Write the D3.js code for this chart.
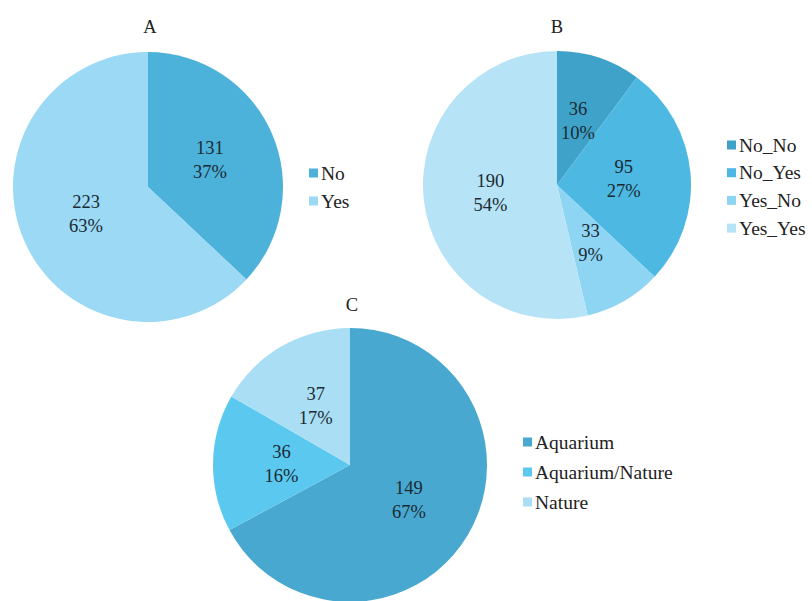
<!DOCTYPE html>
<html><head><meta charset="utf-8">
<script src="https://cdn.jsdelivr.net/npm/d3@7"></script>
<style>body{margin:0;background:#fff}svg{display:block}
svg text{font-family:"Liberation Serif","Times New Roman",Times,"DejaVu Serif",serif;}</style>
</head><body>
<svg id="c" width="812" height="601"></svg>
<script>
const titles = ["A", "B", "C"];
const catsA = ["No", "Yes"];
const valsA = [131, 223];
const pctA = ["37%", "63%"];
const colorsA = ["#4db2da", "#9bd9f4"];
const catsB = ["No_No", "No_Yes", "Yes_No", "Yes_Yes"];
const valsB = [36, 95, 33, 190];
const pctB = ["10%", "27%", "9%", "54%"];
const colorsB = ["#3fa3c9", "#4db9e3", "#8ed5f4", "#b7e3f7"];
const catsC = ["Aquarium", "Aquarium/Nature", "Nature"];
const valsC = [149, 36, 37];
const pctC = ["67%", "16%", "17%"];
const colorsC = ["#48a8cf", "#5bc8ef", "#aadef5"];

const svg = d3.select("#c");

function drawPie(cfg) {
  const g = svg.append("g").attr("transform", `translate(${cfg.cx},${cfg.cy})`);
  const pie = d3.pie().sort(null).value(d => d.v);
  const arc = d3.arc().innerRadius(0).outerRadius(cfg.r);
  const data = cfg.cats.map((c, i) => ({c, v: cfg.vals[i], p: cfg.pct[i], col: cfg.colors[i]}));
  const arcs = pie(data);
  g.selectAll("path").data(arcs).join("path")
    .attr("d", arc).attr("fill", d => d.data.col);
  const lab = g.selectAll("text.l").data(arcs).join("text")
    .attr("class", "l")
    .attr("transform", d => `translate(${arc.centroid(d)})`)
    .attr("text-anchor", "middle")
    .style("font-size", "18.5px").attr("fill", "#1a2a33");
  lab.append("tspan").attr("x", 0).attr("y", -6).text(d => d.data.v);
  lab.append("tspan").attr("x", 0).attr("y", 18).text(d => d.data.p);
  svg.append("text").attr("x", cfg.tx).attr("y", cfg.ty).attr("text-anchor", "middle")
    .style("font-size", "18.5px").attr("fill", "#222").text(cfg.title);
  const lg = svg.append("g");
  data.forEach((d, i) => {
    const y = cfg.ly + i * cfg.ls;
    lg.append("rect").attr("x", cfg.lx).attr("y", y - 4.5).attr("width", 9).attr("height", 9).attr("fill", d.col);
    lg.append("text").attr("x", cfg.lx + 12).attr("y", y + 6.5)
      .style("font-size", "19.5px").attr("fill", "#222").text(d.c);
  });
}

drawPie({cx: 148, cy: 187, r: 135, cats: catsA, vals: valsA, pct: pctA, colors: colorsA,
  title: titles[0], tx: 150, ty: 33, lx: 309, ly: 173, ls: 28});
drawPie({cx: 557, cy: 185, r: 134, cats: catsB, vals: valsB, pct: pctB, colors: colorsB,
  title: titles[1], tx: 557, ty: 33, lx: 727, ly: 145, ls: 27.7});
drawPie({cx: 350, cy: 465, r: 137, cats: catsC, vals: valsC, pct: pctC, colors: colorsC,
  title: titles[2], tx: 352, ty: 311, lx: 523, ly: 442, ls: 30});
</script>
</body></html>
